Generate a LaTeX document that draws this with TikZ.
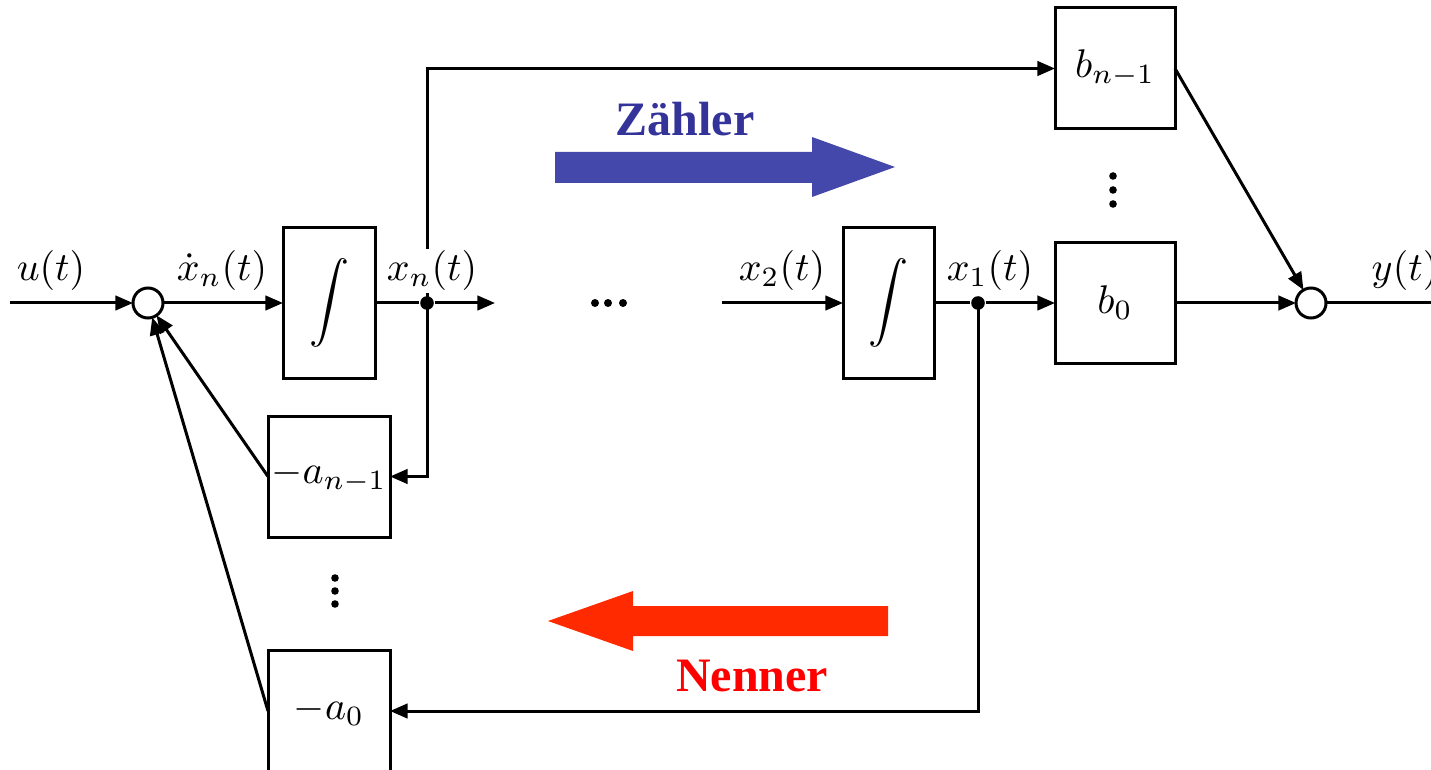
\documentclass[tikz,border=0pt]{standalone}
\usepackage{fontspec}
\newfontfamily\serifb{Liberation Serif}
\usetikzlibrary{arrows.meta}
\definecolor{zblue}{HTML}{4448AA}
\definecolor{ztext}{HTML}{333399}
\definecolor{nred}{HTML}{FF2A00}
\definecolor{ntext}{HTML}{FF0000}
\begin{document}
\begin{tikzpicture}[x=0.25pt,y=-0.25pt,
  sig/.style={line width=0.75pt, -{Triangle[length=4.4pt,width=3.6pt]}},
  ln/.style={line width=0.75pt},
  blk/.style={draw, line width=0.75pt, inner sep=0pt, outer sep=0pt, fill=white},
  sumc/.style={draw, circle, line width=0.75pt, minimum size=7.5pt, inner sep=0pt, outer sep=0pt, fill=white},
  lab/.style={inner sep=0.6pt},
  junc/.style={circle, fill=black, minimum size=3.4pt, inner sep=0pt},
  word/.style={font=\serifb\bfseries\fontsize{12}{14}\selectfont}
]
\useasboundingbox (0,0) rectangle (1431,769);

% blocks
\node[blk, minimum width=23pt, minimum height=37.75pt] (int1) at (329,303) {$\displaystyle\int$};
\node[blk, minimum width=22.75pt, minimum height=37.75pt] (int2) at (888.5,303) {$\displaystyle\int$};
\node[blk, minimum width=30.5pt, minimum height=30.25pt] (an1) at (329,476.5) {$-a_{n-1}$};
\node[blk, minimum width=30.5pt, minimum height=30.5pt] (a0) at (329,711) {$-a_0$};
\node[blk, minimum width=30pt, minimum height=30.25pt] (bn1) at (1115,68.5) {$b_{n-1}$};
\node[blk, minimum width=30pt, minimum height=30pt] (b0) at (1115,303) {$b_0$};
\node[sumc] (s1) at (148,303) {};
\node[sumc] (s2) at (1311,303) {};
\node[junc] (jn) at (427,303) {};
\node[junc] (j1) at (978,303) {};

\coordinate (uin) at (10,303);
\coordinate (xnout) at (495,303);
\coordinate (x2in) at (722,303);
\coordinate (yout) at (1431,303);

% connectors
\draw[sig] (uin) -- (s1);
\draw[sig] (s1) -- (int1);
\draw[ln] (int1) -- (jn);
\draw[sig] (jn) -- (xnout);
\draw[sig] (jn.center) |- (an1);
\draw[sig] (jn.center) |- (bn1);
\draw[sig] (an1.west) -- (s1);
\draw[sig] (a0.west) -- (s1);
\draw[sig] (x2in) -- (int2);
\draw[ln] (int2) -- (j1);
\draw[sig] (j1) -- (b0);
\draw[sig] (j1.center) |- (a0);
\draw[sig] (b0) -- (s2);
\draw[sig] (bn1.east) -- (s2);
\draw[ln] (s2) -- (yout);

% labels
\node[lab] (lu) at (51,271) {$u(t)$};
\node[lab] (lxd) at (222,271) {$\dot x_n(t)$};
\node[lab, fill=white] (lxn) at (432,271) {$x_n(t)$};
\node[lab] (lx2) at (782,271) {$x_2(t)$};
\node[lab] (lx1) at (990,271) {$x_1(t)$};
\node[lab] (ly) at (1405,271) {$y(t)$};

% dots
\fill (595,303) circle (1pt) (608,303) circle (1pt) (623,303) circle (1pt);
\fill (1113,176) circle (0.95pt) (1113,190) circle (0.95pt) (1113,204) circle (0.95pt);
\fill (335,578) circle (0.95pt) (335,591) circle (0.95pt) (335,604) circle (0.95pt);

% big arrows
\fill[zblue] (555,152) -- (812,152) -- (812,137) -- (895,167) -- (812,197) -- (812,183) -- (555,183) -- cycle;
\fill[nred] (888,606) -- (633,606) -- (633,591) -- (548,621) -- (633,651) -- (633,636) -- (888,636) -- cycle;
\node[word, text=ztext] (zaehler) at (685,119) {Zähler};
\node[word, text=ntext] (nenner) at (752,676) {Nenner};
\end{tikzpicture}
\end{document}
